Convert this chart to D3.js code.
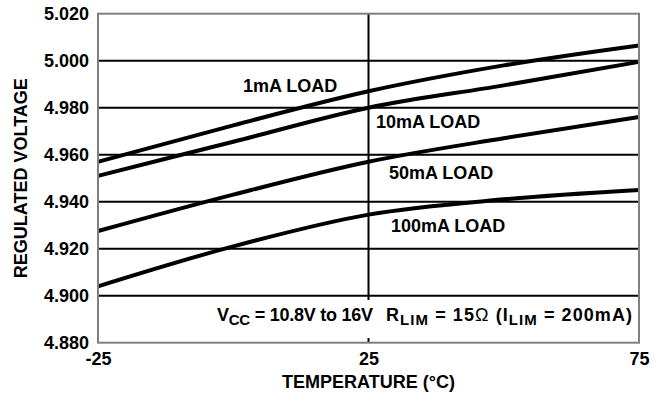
<!DOCTYPE html>
<html>
<head>
<meta charset="utf-8">
<script src="https://cdn.jsdelivr.net/npm/d3@7"></script>
<style>
  html, body { margin: 0; padding: 0; background: #fff; }
  svg { display: block; font-family: "Liberation Sans", Arial, Helvetica, sans-serif; font-weight: bold; }
</style>
</head>
<body>
<svg id="chart" width="670" height="402"></svg>
<script>
// ---- data ----
const temperatures = [-25, 0, 25, 50, 75];
const load1mA   = [4.957, 4.9725, 4.987, 4.998, 5.0065];
const load10mA  = [4.951, 4.9655, 4.980, 4.9895, 4.9995];
const load50mA  = [4.9275, 4.943, 4.957, 4.967, 4.976];
const load100mA = [4.904, 4.921, 4.9345, 4.941, 4.945];
const seriesNames = ["1mA LOAD", "10mA LOAD", "50mA LOAD", "100mA LOAD"];
const xTicks = [-25, 25, 75];
const yTicks = [4.88, 4.90, 4.92, 4.94, 4.96, 4.98, 5.00, 5.02];
const xGrid = [25];
const yGrid = [4.90, 4.92, 4.94, 4.96, 4.98, 5.00];

const series = [load1mA, load10mA, load50mA, load100mA];

// ---- layout ----
const L = 98, R = 639, T = 13.7, B = 342.7;
const FS = 18;
const svg = d3.select("#chart");
const x = d3.scaleLinear().domain([-25, 75]).range([L, R]);
const y = d3.scaleLinear().domain([4.88, 5.02]).range([B, T]);

// grid
svg.append("g").selectAll("line").data(yGrid).join("line")
  .attr("x1", L).attr("x2", R)
  .attr("y1", d => y(d)).attr("y2", d => y(d))
  .attr("stroke", "#000").attr("stroke-width", 2);
svg.append("g").selectAll("line").data(xGrid).join("line")
  .attr("x1", d => x(d)).attr("x2", d => x(d))
  .attr("y1", T).attr("y2", B)
  .attr("stroke", "#000").attr("stroke-width", 2);

// curves
const line = d3.line()
  .x((d, i) => x(temperatures[i]))
  .y(d => y(d))
  .curve(d3.curveMonotoneX);
svg.append("g").selectAll("path").data(series).join("path")
  .attr("d", d => line(d))
  .attr("fill", "none").attr("stroke", "#000").attr("stroke-width", 4);

// annotation box
svg.append("rect").attr("x", 212).attr("y", 300).attr("width", 425).attr("height", 38).attr("fill", "#fff");
const SUB = 15;
const ann1 = svg.append("text").attr("x", 217).attr("y", 321).attr("font-size", FS).attr("fill", "#000")
  .attr("textLength", 156).attr("lengthAdjust", "spacing");
ann1.append("tspan").text("V");
ann1.append("tspan").attr("font-size", SUB).attr("dy", 4).text("CC");
ann1.append("tspan").attr("dy", -4).text(" = 10.8V to 16V");
const ann2 = svg.append("text").attr("x", 386).attr("y", 321).attr("font-size", FS).attr("fill", "#000")
  .attr("textLength", 246).attr("lengthAdjust", "spacing");
ann2.append("tspan").text("R");
ann2.append("tspan").attr("font-size", SUB).attr("dy", 4).text("LIM");
ann2.append("tspan").attr("dy", -4).text(" = 15");
ann2.append("tspan").attr("font-weight", "normal").text("Ω");
ann2.append("tspan").text(" (I");
ann2.append("tspan").attr("font-size", SUB).attr("dy", 4).text("LIM");
ann2.append("tspan").attr("dy", -4).text(" = 200mA)");

// frame
svg.append("rect").attr("x", L).attr("y", T).attr("width", R - L).attr("height", B - T)
  .attr("fill", "none").attr("stroke", "#808080").attr("stroke-width", 2);

// series labels
const labelPos = [[243, 92], [376, 128], [389, 179], [391, 232]];
svg.append("g").selectAll("text").data(seriesNames).join("text")
  .attr("x", (d, i) => labelPos[i][0]).attr("y", (d, i) => labelPos[i][1])
  .attr("font-size", FS).attr("fill", "#000").text(d => d);

// axes
const yAxis = svg.append("g").attr("transform", `translate(${L},0)`)
  .call(d3.axisLeft(y).tickValues(yTicks).tickSize(0).tickPadding(9).tickFormat(d3.format(".3f")));
const xAxis = svg.append("g").attr("transform", `translate(0,${B})`)
  .call(d3.axisBottom(x).tickValues(xTicks).tickSize(0).tickFormat(d => d));
[yAxis, xAxis].forEach(a => {
  a.select(".domain").remove();
  a.selectAll("text").attr("font-family", null).attr("font-size", FS).attr("font-weight", "bold").attr("fill", "#000");
});
xAxis.selectAll("text").attr("dy", null).attr("y", 22.5);

// axis titles
svg.append("text").attr("x", (L + R) / 2).attr("y", 388).attr("text-anchor", "middle")
  .attr("font-size", FS).text("TEMPERATURE (°C)");
svg.append("text").attr("transform", `translate(27,${(T + B) / 2}) rotate(-90)`).attr("text-anchor", "middle")
  .attr("font-size", FS).text("REGULATED VOLTAGE");
</script>
</body>
</html>
